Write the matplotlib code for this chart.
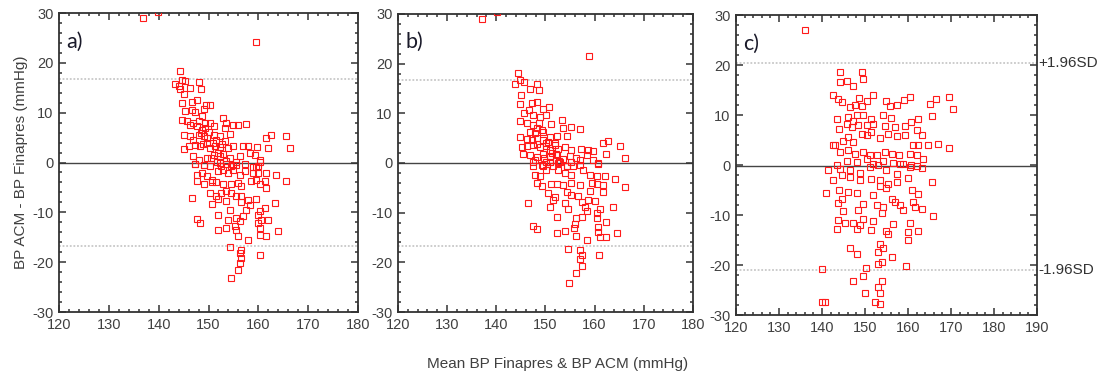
import numpy as np
import matplotlib
matplotlib.use('Agg')
import matplotlib.pyplot as plt
from matplotlib.ticker import MultipleLocator

plt.rcParams['font.family'] = ['Liberation Sans', 'DejaVu Sans']
plt.rcParams['axes.unicode_minus'] = False

# Bland-Altman data: mean of the two methods (x) and difference ACM - Finapres (y)
a_mean = [136.8, 139.9, 159.5,
          144.3, 144.6, 145.3, 143.3, 144.0, 148.0, 146.3, 148.4, 145.0, 144.3,
          144.6, 146.6, 147.6, 149.5, 150.3, 145.3, 146.6, 147.3, 149.0, 148.6,
          144.6, 145.6, 146.3, 146.9, 148.0, 147.6, 148.6, 149.3, 150.3, 151.0,
          153.0, 153.6, 155.0, 156.0, 157.5, 153.3, 145.0, 146.3, 146.9, 148.0,
          149.0, 149.6, 151.0, 152.3, 154.3, 153.3, 145.0, 146.0, 147.3, 148.3,
          149.6, 150.3, 151.3, 152.3, 154.0, 155.0, 157.0, 158.0, 159.8, 161.6,
          162.6, 165.5, 162.0, 166.4, 146.9, 148.0, 149.6, 151.0, 152.3, 154.3,
          156.3, 158.3, 159.3, 160.3, 147.3, 149.0, 152.6, 154.6, 155.6, 159.6,
          148.5, 149.2, 150.0, 151.5, 152.0, 150.5, 151.8, 153.0, 148.8, 150.8,
          152.8, 153.5,
          147.3, 149.0, 150.3, 152.3, 153.6, 155.0, 155.6, 157.3, 159.0, 160.0,
          160.3, 147.6, 148.6, 149.6, 150.6, 152.0, 153.0, 154.0, 155.0, 156.3,
          157.3, 159.0, 160.0, 161.6, 163.6, 165.6, 147.6, 149.0, 150.6, 151.6,
          153.0, 154.6, 156.0, 156.6, 158.6, 159.6, 160.3, 161.3, 161.6, 146.6,
          150.3, 151.6, 152.6, 153.6, 154.6, 155.6, 156.6, 158.0, 159.6, 150.6,
          152.0, 153.6, 154.3, 156.6, 158.3, 157.6, 160.3, 161.3, 163.3, 152.0,
          154.0, 155.6, 156.3, 157.0, 160.0, 160.6, 161.9, 147.6, 148.3, 152.0,
          153.6, 155.3, 155.6, 160.0, 160.3, 160.3, 161.6, 164.0, 156.0, 158.0,
          154.3, 156.6, 156.3, 156.6, 156.3, 160.3, 156.0, 154.6]
a_diff = [28.9, 30.3, 24.1,
          18.3, 16.6, 16.3, 15.8, 15.4, 16.1, 14.9, 14.7, 13.8, 14.7,
          11.9, 12.1, 12.5, 11.5, 11.6, 10.3, 10.6, 10.1, 10.7, 9.4,
          8.6, 8.3, 7.6, 7.9, 8.3, 7.3, 6.6, 6.9, 7.9, 7.3,
          8.9, 7.9, 7.6, 7.6, 7.8, 6.9, 5.6, 5.3, 4.6, 5.6,
          5.4, 4.9, 5.6, 5.3, 5.8, 4.3, 2.7, 3.4, 3.6, 3.3,
          3.9, 2.9, 3.4, 3.1, 2.9, 3.4, 3.4, 3.3, 3.1, 4.9,
          5.6, 5.3, 2.9, 2.9, 1.3, 0.6, 0.9, 1.6, 1.3, 0.9,
          1.3, 1.9, 1.6, 0.6, -0.2, -0.4, -0.7, -0.7, -0.6, -0.9,
          6.0, 8.0, 6.2, 4.5, 2.0, 1.0, 0.2, 1.8, 3.8, 4.0,
          3.8, 0.4,
          -0.3, -0.5, -0.7, 0.0, -0.3, -0.5, 0.2, -0.2, -1.0, -0.8,
          0.2, -2.5, -2.2, -2.7, -3.5, -1.8, -1.5, -2.2, -1.5, -2.5,
          -1.8, -2.2, -2.2, -2.2, -2.5, -3.8, -3.8, -4.3, -4.0, -4.0,
          -4.3, -4.3, -4.2, -4.7, -3.8, -3.6, -4.3, -3.8, -5.2, -7.2,
          -6.2, -6.7, -6.2, -5.8, -6.2, -6.8, -6.7, -7.5, -7.4, -8.4,
          -7.4, -7.8, -9.5, -8.0, -8.5, -9.5, -9.8, -9.2, -8.2, -10.5,
          -11.5, -11.2, -11.8, -10.8, -10.5, -11.5, -11.6, -11.4, -12.2, -13.5,
          -13.2, -12.7, -13.5, -12.2, -13.2, -14.5, -14.7, -13.8, -14.7, -15.5,
          -17.0, -17.5, -18.2, -19.2, -20.2, -18.5, -21.6, -23.2]

b_mean = [137.1, 140.1, 158.9,
          144.5, 143.8, 144.8, 145.6, 148.2, 146.8, 148.7, 145.1, 144.8, 147.2,
          148.2, 146.7, 145.6, 149.6, 150.8, 147.5, 148.9, 150.2, 153.3, 151.2,
          153.6, 155.3, 157.0, 144.9, 146.2, 147.4, 148.2, 149.2, 146.8, 144.8,
          146.2, 147.2, 148.2, 149.6, 150.9, 152.3, 154.3, 151.9, 145.3, 146.2,
          147.5, 148.9, 150.2, 150.9, 152.6, 154.0, 155.3, 157.3, 158.7, 159.7,
          161.8, 162.8, 165.1, 162.3, 166.2, 145.5, 146.8, 148.2, 149.6, 150.9,
          152.3, 153.6, 155.0, 156.3, 158.4, 160.7, 147.5, 149.6, 151.6, 154.3,
          155.7, 147.9, 150.2, 152.9, 157.0, 159.7,
          147.8, 148.6, 149.5, 150.5, 151.3, 149.8, 151.0, 152.2, 148.2, 150.2,
          152.0, 152.8,
          147.5, 149.2, 150.9, 152.6, 154.3, 155.3, 157.0, 160.7, 147.9, 148.9,
          150.2, 152.6, 154.0, 155.3, 157.7, 159.0, 160.4, 162.1, 164.1, 166.2,
          148.2, 149.2, 151.2, 152.3, 153.6, 155.3, 157.0, 159.4, 160.4, 161.8,
          159.0, 161.8, 146.5, 150.6, 151.9, 151.6, 154.3, 155.3, 156.7, 157.4,
          158.7, 160.1, 150.9, 154.0, 154.6, 158.0, 158.5, 161.1, 160.4, 163.7,
          152.3, 156.3, 157.4, 160.4, 162.3, 156.0, 147.5, 148.2, 152.3, 154.0,
          155.9, 156.3, 158.4, 160.7, 160.7, 161.1, 162.3, 164.5, 154.6, 157.0,
          157.4, 157.0, 157.4, 160.9, 156.2, 154.8]
b_diff = [28.9, 30.3, 21.6,
          18.2, 15.9, 16.8, 16.4, 15.9, 14.8, 14.6, 13.7, 11.9, 12.0,
          12.3, 10.7, 10.1, 10.8, 11.2, 9.7, 9.2, 9.7, 8.7, 7.9,
          7.0, 7.3, 6.8, 8.5, 8.0, 7.7, 7.0, 6.6, 6.3, 5.2,
          4.8, 4.6, 5.0, 4.6, 5.3, 5.4, 5.4, 4.0, 3.2, 3.4,
          3.6, 3.2, 3.4, 2.6, 2.9, 3.2, 2.7, 2.9, 2.7, 2.5,
          4.0, 4.5, 3.4, 1.8, 1.1, 1.9, 1.6, 1.3, 1.8, 1.2,
          1.6, 0.9, 1.4, 1.1, 1.6, -0.1, -0.6, -0.7, -0.6, -0.7,
          -0.6, 0.6, 0.3, 0.3, 0.6, 0.6,
          6.0, 8.0, 6.2, 4.2, 2.1, 1.0, 0.2, 1.9, 3.8, 4.0,
          3.6, 0.4,
          0.1, -0.4, 0.3, -0.1, -0.6, 0.3, -0.4, -0.2, -2.4, -2.7,
          -1.5, -1.4, -2.1, -2.4, -1.4, -2.4, -2.7, -2.7, -3.2, -4.8,
          -4.1, -4.6, -4.2, -4.2, -4.4, -4.1, -4.4, -4.0, -4.2, -4.4,
          -5.6, -5.8, -8.0, -6.1, -6.8, -7.4, -5.8, -6.4, -6.6, -7.8,
          -7.4, -7.6, -8.8, -8.1, -9.3, -8.8, -9.6, -9.3, -10.1, -8.8,
          -10.8, -11.1, -10.9, -11.1, -11.8, -12.3, -12.7, -13.3, -14.0, -13.6,
          -13.1, -14.7, -15.6, -12.8, -13.8, -14.8, -14.8, -14.0, -17.4, -17.6,
          -18.5, -19.4, -20.7, -18.6, -22.2, -24.1]

c_mean = [136.0,
          144.3, 149.2, 149.5, 144.3, 145.7, 147.3, 142.6, 143.8, 144.6, 148.7,
          150.4, 151.8, 146.5, 147.7, 149.2, 155.0, 155.8, 157.4, 159.1, 160.5,
          165.1, 166.5, 169.6, 170.5, 165.5, 143.4, 146.1, 147.3, 148.1, 149.6,
          151.5, 154.3, 156.0, 144.0, 145.7, 146.9, 148.4, 150.4, 151.9, 154.6,
          157.0, 159.3, 160.6, 162.4, 162.0, 163.2, 143.0, 145.0, 146.1, 147.3,
          149.2, 150.4, 151.5, 153.5, 155.4, 157.4, 159.3, 161.2, 162.4, 164.7,
          167.0, 169.6, 142.5, 144.2, 146.1, 147.7, 149.6, 151.2, 152.7, 154.6,
          156.2, 157.8, 160.5, 162.2, 163.6, 145.7, 148.1, 150.4, 151.9, 154.3,
          156.6, 158.9, 160.8, 143.4,
          141.5, 144.2, 146.5, 148.8, 151.2, 153.1, 155.0, 158.1, 160.5, 162.0,
          163.2, 142.6, 144.6, 146.5, 148.8, 151.5, 153.5, 155.4, 157.4, 157.4,
          160.1, 165.5, 140.9, 144.0, 146.1, 148.1, 151.9, 153.5, 155.0, 160.9,
          162.4, 143.8, 144.6, 149.6, 152.7, 154.3, 156.2, 157.0, 158.1, 158.9,
          161.2, 161.6, 163.2, 145.0, 148.4, 153.9, 143.8, 145.3, 147.3, 148.8,
          149.6, 151.9, 156.6, 160.5, 162.4, 165.7, 143.4, 148.1, 151.5, 155.0,
          155.4, 160.1, 160.1, 146.5, 148.1, 153.5, 154.3, 153.1, 156.2, 153.9,
          153.1, 159.5, 139.9, 150.2, 149.6, 147.3, 153.9, 153.1, 150.0, 153.5,
          139.9, 140.7, 152.3, 153.5]
c_diff = [27.0,
          18.7, 18.7, 17.2, 16.7, 16.8, 15.9, 14.0, 13.3, 12.7, 13.5,
          12.8, 14.1, 11.7, 12.1, 11.9, 12.8, 11.9, 12.0, 13.0, 13.7,
          12.3, 13.3, 13.7, 11.2, 9.9, 9.2, 9.7, 8.8, 10.0, 10.1,
          9.3, 10.1, 9.5, 7.3, 8.3, 7.7, 8.0, 8.1, 8.3, 7.9,
          7.7, 7.9, 8.7, 9.3, 7.0, 6.1, 4.1, 4.8, 5.7, 4.7,
          6.3, 6.0, 6.7, 5.5, 6.3, 5.9, 6.0, 4.0, 4.1, 4.0,
          4.3, 3.5, 4.0, 2.7, 3.0, 2.3, 2.7, 2.0, 2.1, 2.7,
          2.3, 2.0, 2.3, 2.0, 1.2, 0.8, 0.7, 1.3, 0.3, 0.8,
          0.5, 0.3, 0.0, 0.0,
          -0.9, -0.7, -1.0, -1.5, -0.3, 0.0, -0.9, 0.2, -0.3, -0.2,
          -0.5, -2.9, -2.0, -2.3, -2.9, -2.7, -3.0, -3.8, -1.8, -3.3,
          -2.5, -3.3, -5.5, -5.0, -5.3, -5.5, -6.0, -4.2, -4.5, -4.9,
          -5.8, -7.5, -6.7, -7.7, -8.0, -8.3, -6.7, -7.3, -8.0, -9.0,
          -7.3, -8.3, -8.7, -9.1, -8.9, -9.5, -10.9, -11.5, -11.5, -12.0,
          -10.7, -11.1, -11.8, -11.5, -13.1, -10.2, -12.7, -12.7, -12.9, -13.1,
          -13.8, -13.3, -15.0, -16.5, -17.8, -15.7, -16.5, -17.3, -18.3, -19.3,
          -19.8, -20.2, -20.7, -20.5, -22.2, -23.1, -23.1, -24.3, -25.5, -25.5,
          -27.3, -27.3, -27.3, -27.7]

# mean difference and +/-1.96 SD limits for each panel
panels = [
    dict(x=a_mean, y=a_diff, bias=0.0, upper=16.8, lower=-16.8,
         xmax=180, tag='a)', pos=[0.0529, 0.1702, 0.2679, 0.7952]),
    dict(x=b_mean, y=b_diff, bias=0.0, upper=16.7, lower=-16.7,
         xmax=180, tag='b)', pos=[0.3566, 0.1702, 0.2643, 0.7926]),
    dict(x=c_mean, y=c_diff, bias=-0.2, upper=20.5, lower=-21.0,
         xmax=190, tag='c)', pos=[0.6595, 0.1622, 0.2697, 0.7979]),
]

text_col = '#404040'

fig = plt.figure(figsize=(11.16, 3.76), dpi=100)

axes = []
for p in panels:
    ax = fig.add_axes(p['pos'])
    axes.append(ax)
    ax.axhline(p['bias'], color='#444444', lw=1.0, zorder=1)
    for lim in (p['upper'], p['lower']):
        ax.axhline(lim, color='#c8c8c8', lw=1.3, ls=(0, (1, 1)), zorder=1)
    ax.plot(p['x'], p['y'], ls='none', marker='s', ms=4.2, mfc='none',
            mec='#ff1a1a', mew=0.8, zorder=3)

    ax.set_xlim(120, p['xmax'])
    ax.set_ylim(-30, 30)
    ax.xaxis.set_major_locator(MultipleLocator(10))
    ax.xaxis.set_minor_locator(MultipleLocator(2))
    ax.yaxis.set_major_locator(MultipleLocator(10))
    ax.yaxis.set_minor_locator(MultipleLocator(2))
    ax.tick_params(which='both', direction='in', top=True, right=True,
                   color='#333333', width=1.1, labelsize=10.5,
                   labelcolor=text_col)
    ax.tick_params(which='major', length=5, pad=4)
    ax.tick_params(which='minor', length=2.5)
    for s in ax.spines.values():
        s.set_linewidth(1.3)
        s.set_color('#333333')

    ax.text(0.025, 0.905, p['tag'], transform=ax.transAxes, fontsize=15.5,
            family=['Lato', 'DejaVu Sans'], color='#1a1a2a', va='center')

# labels for the limits of agreement on the last panel
ax_c = axes[2]
ax_c.text(1.005, panels[2]['upper'], '+1.96SD', transform=ax_c.get_yaxis_transform(),
          va='center', ha='left', fontsize=11, color='#333333', clip_on=False)
ax_c.text(1.005, panels[2]['lower'], '-1.96SD', transform=ax_c.get_yaxis_transform(),
          va='center', ha='left', fontsize=11, color='#333333', clip_on=False)

axes[0].set_ylabel('BP ACM - BP Finapres (mmHg)', fontsize=11, color=text_col,
                   labelpad=3)
fig.text(0.5, 0.032, 'Mean BP Finapres & BP ACM (mmHg)', ha='center',
         va='center', fontsize=11, color=text_col)

fig.savefig('out.png', dpi=100)
